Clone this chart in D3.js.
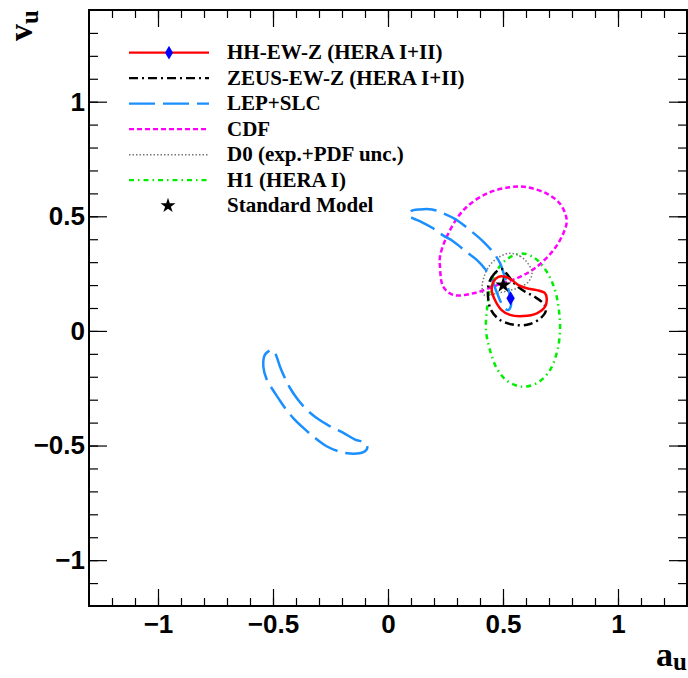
<!doctype html>
<html>
<head>
<meta charset="utf-8">
<title>a_u v_u contours</title>
<script src="https://d3js.org/d3.v7.min.js"></script>
<style>
  body { margin:0; background:#fff; }
  .tick text { font-family:"Liberation Sans", Arial, sans-serif; font-weight:bold; font-size:26px; fill:#000; }
  .leg text { font-family:"Liberation Serif", "Times New Roman", serif; font-weight:bold; font-size:21px; }
  .title { font-family:"Liberation Serif", "Times New Roman", serif; font-weight:bold; font-size:34px; }
</style>
</head>
<body>
<svg width="688" height="678"></svg>
<script>
// contour points [a_u, v_u]
let hhEwZ = [[0.458,0.214],[0.451,0.178],[0.465,0.135],[0.494,0.091],[0.530,0.070],[0.588,0.065],
             [0.647,0.077],[0.683,0.106],[0.690,0.142],[0.683,0.164],[0.647,0.178],[0.603,0.186],
             [0.567,0.200],[0.538,0.222],[0.509,0.236],[0.480,0.236]];
let zeusEwZ = [[0.494,0.270],[0.461,0.248],[0.439,0.209],[0.435,0.148],[0.448,0.091],[0.487,0.048],
               [0.552,0.026],[0.617,0.030],[0.665,0.057],[0.687,0.091],[0.678,0.117],[0.639,0.148],
               [0.591,0.174],[0.548,0.209],[0.517,0.248]];
let lepUpper = [[0.091,0.500],[0.100,0.522],[0.139,0.530],[0.191,0.530],[0.239,0.513],[0.300,0.483],
                [0.357,0.439],[0.413,0.391],[0.457,0.343],[0.487,0.296],[0.509,0.230],[0.526,0.170],
                [0.535,0.113],[0.522,0.091],[0.500,0.109],[0.474,0.165],[0.452,0.222],[0.422,0.270],
                [0.387,0.309],[0.343,0.343],[0.283,0.391],[0.239,0.417],[0.196,0.448],[0.148,0.474],
                [0.109,0.491]];
let lepLower = [[-0.506,-0.083],[-0.535,-0.104],[-0.542,-0.155],[-0.527,-0.213],[-0.506,-0.249],
                [-0.477,-0.293],[-0.448,-0.336],[-0.412,-0.380],[-0.368,-0.423],[-0.317,-0.467],
                [-0.267,-0.503],[-0.216,-0.525],[-0.165,-0.535],[-0.107,-0.529],[-0.090,-0.510],
                [-0.100,-0.488],[-0.143,-0.474],[-0.194,-0.445],[-0.252,-0.416],[-0.310,-0.380],
                [-0.361,-0.336],[-0.397,-0.293],[-0.426,-0.249],[-0.448,-0.206],[-0.470,-0.155],
                [-0.491,-0.097]];
let cdf = [[0.226,0.280],[0.240,0.193],[0.284,0.157],[0.371,0.164],[0.474,0.200],[0.574,0.236],
           [0.647,0.280],[0.719,0.352],[0.762,0.425],[0.777,0.483],[0.748,0.555],[0.690,0.599],
           [0.603,0.627],[0.530,0.627],[0.429,0.599],[0.327,0.526],[0.255,0.410],[0.226,0.323]];
let d0 = [[0.530,0.339],[0.574,0.326],[0.604,0.300],[0.626,0.257],[0.613,0.217],[0.574,0.191],
          [0.517,0.174],[0.461,0.161],[0.417,0.157],[0.409,0.187],[0.417,0.235],[0.443,0.287],
          [0.483,0.322]];
let h1 = [[0.581,0.338],[0.639,0.317],[0.691,0.257],[0.726,0.178],[0.743,0.091],[0.748,0.004],
          [0.735,-0.091],[0.700,-0.178],[0.643,-0.230],[0.578,-0.243],[0.517,-0.217],[0.474,-0.165],
          [0.443,-0.083],[0.426,0.004],[0.430,0.091],[0.443,0.178],[0.470,0.257],[0.517,0.313]];
let hhPoint = [0.533, 0.142];
let smPoint = [0.501, 0.200];

let majorTicks = [-1, -0.5, 0, 0.5, 1];
let legendLabels = ['HH-EW-Z (HERA I+II)', 'ZEUS-EW-Z (HERA I+II)', 'LEP+SLC', 'CDF',
                    'D0 (exp.+PDF unc.)', 'H1 (HERA I)', 'Standard Model'];

let svg = d3.select('svg');

let x = d3.scaleLinear().domain([-1.3, 1.3]).range([89, 687]);
let y = d3.scaleLinear().domain([-1.2, 1.4]).range([606, 10]);

let xMinor = d3.range(-12, 13).map(function(i) { return i / 10; });
let yMinor = d3.range(-11, 14).map(function(i) { return i / 10; });
let fmt = function(d) { return (d < 0 ? '\u2212' : '') + Math.abs(d); };

// axes, ticks pointing inward (ROOT style)
function addAxis(axis, tr) {
    let g = svg.append('g').attr('transform', tr).call(axis);
    g.select('.domain').remove();
    g.selectAll('.tick line').attr('stroke', '#000').attr('stroke-width', 1.2);
    return g;
}
addAxis(d3.axisBottom(x).tickValues(xMinor).tickSize(-8).tickFormat(''), 'translate(0,606)');
addAxis(d3.axisBottom(x).tickValues(majorTicks).tickSize(-17).tickPadding(9).tickFormat(fmt), 'translate(0,606)');
addAxis(d3.axisTop(x).tickValues(xMinor).tickSize(-8).tickFormat(''), 'translate(0,10)');
addAxis(d3.axisTop(x).tickValues(majorTicks).tickSize(-17).tickFormat(''), 'translate(0,10)');
addAxis(d3.axisLeft(y).tickValues(yMinor).tickSize(-9).tickFormat(''), 'translate(89,0)');
addAxis(d3.axisLeft(y).tickValues(majorTicks).tickSize(-18).tickPadding(4).tickFormat(fmt), 'translate(89,0)');
addAxis(d3.axisRight(y).tickValues(yMinor).tickSize(-9).tickFormat(''), 'translate(687,0)');
addAxis(d3.axisRight(y).tickValues(majorTicks).tickSize(-18).tickFormat(''), 'translate(687,0)');

svg.append('rect')
   .attr('x', 89).attr('y', 10)
   .attr('width', 598).attr('height', 596)
   .attr('fill', 'none').attr('stroke', '#000').attr('stroke-width', 2);

// contours
let line = d3.line()
             .x(function(d) { return x(d[0]); })
             .y(function(d) { return y(d[1]); })
             .curve(d3.curveCatmullRomClosed);

let styles = [
    { color: '#ff0000', dash: null,        width: 2.5 },
    { color: '#000000', dash: '9,4,2,4',   width: 2.5 },
    { color: '#1a8fff', dash: '26,8',      width: 2.5 },
    { color: '#ff00ff', dash: '5,3',       width: 2.5 },
    { color: '#777777', dash: '1.5,2',     width: 1.5 },
    { color: '#00ee00', dash: '5,4,1.5,4', width: 2.5 }
];
let contours = [
    { data: h1, s: 5 },
    { data: cdf, s: 3 },
    { data: d0, s: 4 },
    { data: lepUpper, s: 2 },
    { data: lepLower, s: 2 },
    { data: zeusEwZ, s: 1 },
    { data: hhEwZ, s: 0 }
];
svg.selectAll('path.contour')
   .data(contours)
   .enter()
   .append('path')
   .attr('class', 'contour')
   .attr('d', function(d) { return line(d.data); })
   .attr('fill', 'none')
   .attr('stroke', function(d) { return styles[d.s].color; })
   .attr('stroke-width', function(d) { return styles[d.s].width; })
   .attr('stroke-dasharray', function(d) { return styles[d.s].dash; });

svg.append('path')
   .attr('d', d3.symbol().type(d3.symbolDiamond).size(60)())
   .attr('transform', 'translate(' + x(hhPoint[0]) + ',' + y(hhPoint[1]) + ')')
   .attr('fill', '#0000ff');
svg.append('path')
   .attr('d', d3.symbol().type(d3.symbolStar).size(80)())
   .attr('transform', 'translate(' + x(smPoint[0]) + ',' + y(smPoint[1]) + ')')
   .attr('fill', '#000');

// legend
let leg = svg.append('g').attr('class', 'leg');
legendLabels.forEach(function(t, i) {
    let ly = 52.7 + i * 25.5;
    if (i < 6) {
        leg.append('line')
           .attr('x1', 129).attr('x2', 209).attr('y1', ly).attr('y2', ly)
           .attr('stroke', styles[i].color)
           .attr('stroke-width', i === 4 ? 1.5 : 2.2)
           .attr('stroke-dasharray', styles[i].dash);
    }
    if (i === 0) {
        leg.append('path')
           .attr('d', d3.symbol().type(d3.symbolDiamond).size(55)())
           .attr('transform', 'translate(169,' + ly + ')')
           .attr('fill', '#0000ff');
    }
    if (i === 6) {
        leg.append('path')
           .attr('d', d3.symbol().type(d3.symbolStar).size(70)())
           .attr('transform', 'translate(168,' + ly + ')')
           .attr('fill', '#000');
    }
    leg.append('text').attr('x', 227).attr('y', ly + 6.5).text(t);
});

// axis titles
let xt = svg.append('text').attr('class', 'title')
            .attr('x', 687).attr('y', 666).attr('text-anchor', 'end');
xt.append('tspan').text('a');
xt.append('tspan').attr('dy', 4).attr('font-size', 25).text('u');

let yt = svg.append('text').attr('class', 'title')
            .attr('transform', 'translate(32,10) rotate(-90)')
            .attr('text-anchor', 'end');
yt.append('tspan').text('v');
yt.append('tspan').attr('dy', 6).attr('font-size', 25).text('u');
</script>
</body>
</html>
